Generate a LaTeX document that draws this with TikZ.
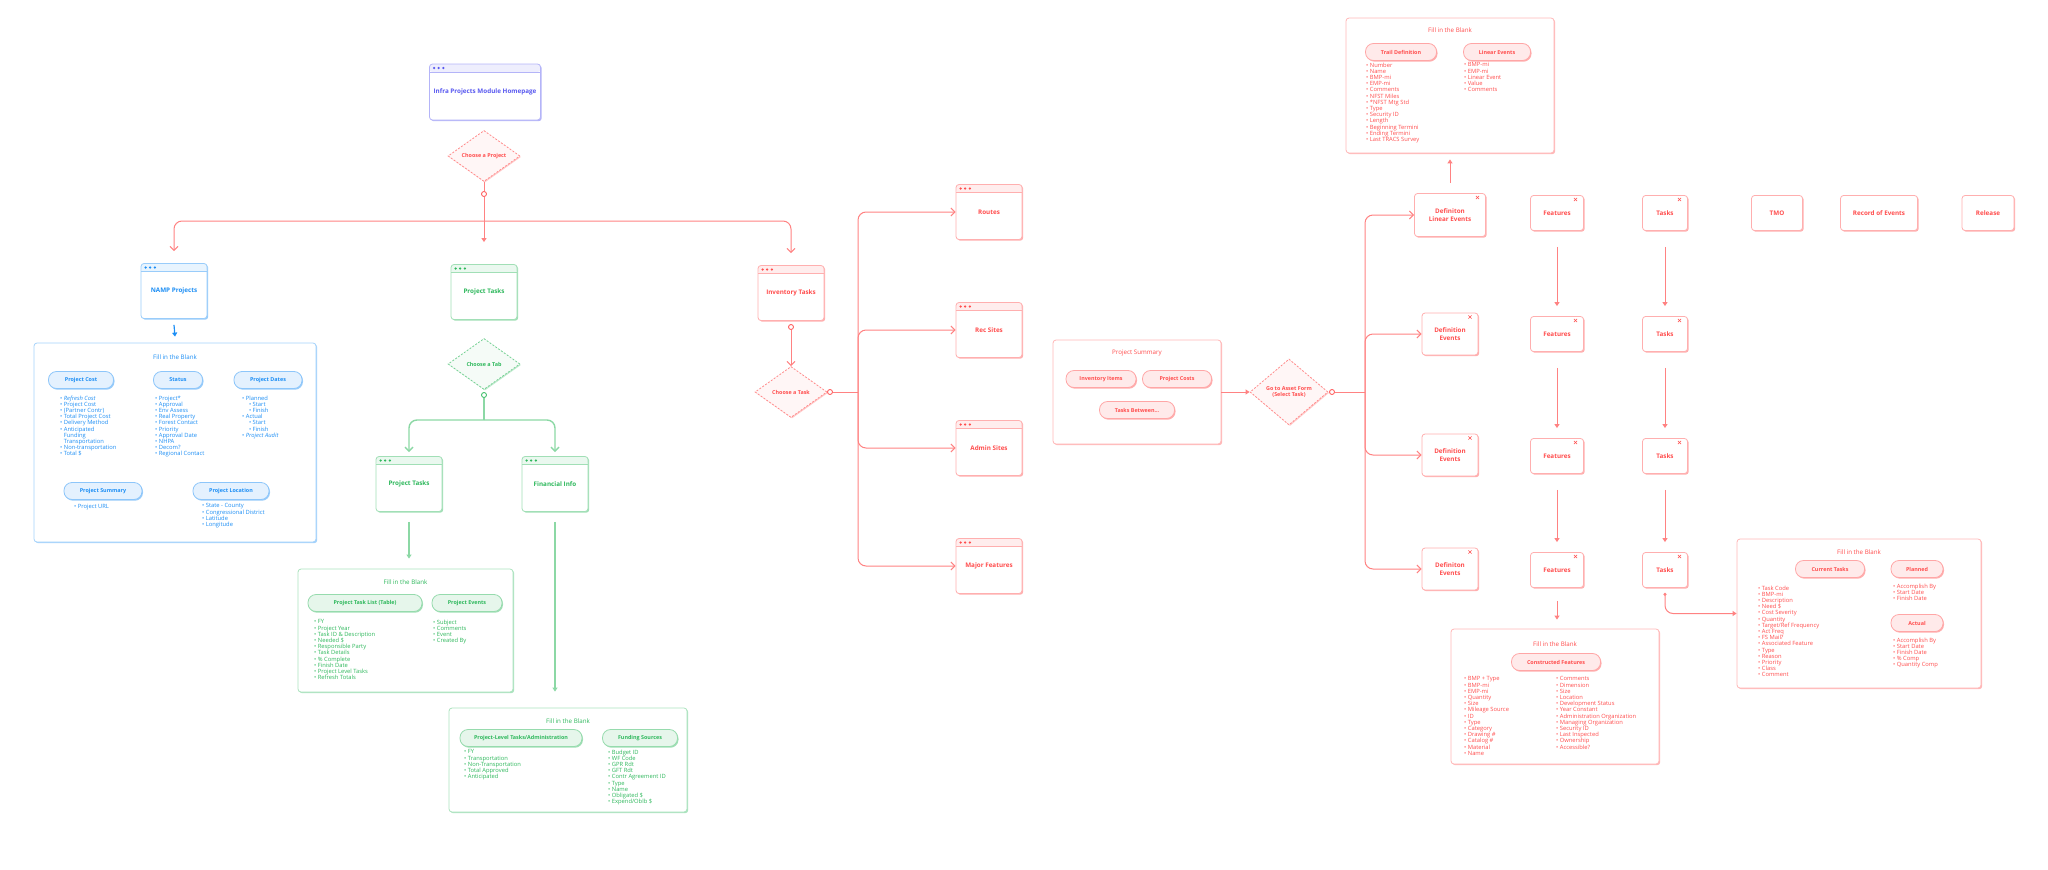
\documentclass[tikz,border=0pt]{standalone}
\usepackage{fontspec}
\setmainfont{Open Sans}
\usepackage{tikz}
\usetikzlibrary{shapes.geometric, arrows.meta, positioning, shadows, calc}
\definecolor{nred}{HTML}{FF4D4D}
\definecolor{nblue}{HTML}{1C8EF5}
\definecolor{ngreen}{HTML}{2EB85C}
\definecolor{npurple}{HTML}{5858F0}
\newcommand{\winfont}{\fontsize{6.3}{7.4}\selectfont\bfseries}
\newcommand{\pillfnt}{\fontsize{5.4}{6.3}\selectfont\bfseries}
\newcommand{\itemfnt}{\fontsize{5.8}{6.2}\selectfont}
\newcommand{\headfnt}{\fontsize{6.2}{7}\selectfont}
\tikzstyle{rline} = [nred!70, line width=1pt, rounded corners=8pt]
\tikzstyle{gline} = [ngreen!55, line width=1.4pt, rounded corners=8pt]
\tikzstyle{barb} = [-{Straight Barb[length=4pt, width=8pt]}]
\tikzstyle{tip} = [-{Triangle[length=4pt, width=5pt]}]

\begin{document}
\begin{tikzpicture}[x=1pt, y=-1pt,
		win/.style={rectangle, rounded corners=3pt, draw=#1!45, line width=0.8pt, fill=white, text=#1, font=\winfont, align=center,
			minimum width=66pt, minimum height=55pt, inner sep=1pt,
			drop shadow={shadow xshift=1.2pt, shadow yshift=-1.2pt, fill=#1!45, opacity=1},
			path picture={
				\fill[#1!10] (path picture bounding box.north west) rectangle ([yshift=-8pt]path picture bounding box.north east);
				\draw[#1!45, line width=0.6pt] ([yshift=-8pt]path picture bounding box.north west) -- ([yshift=-8pt]path picture bounding box.north east);
				\foreach \k in {1,2,3} \fill[#1] ([xshift=\k*4.6pt, yshift=-4pt]path picture bounding box.north west) circle (1.25pt);
			}},
		tbox/.style={rectangle, rounded corners=3pt, draw=nred!45, line width=0.8pt, fill=white, text=nred, font=\winfont, align=center,
			minimum height=35pt, inner sep=1pt, drop shadow={shadow xshift=1.2pt, shadow yshift=-1.2pt, fill=nred!45, opacity=1}},
		xmark/.style={path picture={
				\draw[nred, line width=0.5pt] ([xshift=-8pt, yshift=-4pt]path picture bounding box.north east) +(-1.6pt,-1.6pt) -- +(1.6pt,1.6pt) +(-1.6pt,1.6pt) -- +(1.6pt,-1.6pt);
			}},
		choice/.style={diamond, draw=#1!65, dash pattern=on 2pt off 1.5pt, line width=0.8pt, fill=#1!5, text=#1, font=\pillfnt, align=center,
			inner sep=0pt, minimum width=72pt, minimum height=51pt, drop shadow={shadow xshift=1pt, shadow yshift=-1pt, fill=#1!30, opacity=1}},
		blank/.style={rectangle, rounded corners=3pt, draw=#1!40, line width=0.8pt, fill=white,
			drop shadow={shadow xshift=1.2pt, shadow yshift=-1.2pt, fill=#1!40, opacity=1}},
		pill/.style={rectangle, rounded corners=8pt, draw=#1!50, line width=0.8pt, fill=#1!12, text=#1, font=\pillfnt,
			minimum height=17pt, inner xsep=3pt, drop shadow={shadow xshift=1pt, shadow yshift=-1.2pt, fill=#1!45, opacity=1}},
		head/.style={text=#1, font=\headfnt, inner sep=0pt},
		items/.style={text=#1, font=\itemfnt, align=left, anchor=north west, inner sep=0pt},
		dot/.style={circle, draw=#1, line width=0.8pt, fill=white, inner sep=0pt, minimum size=5pt}
		]
		\useasboundingbox (0,0) rectangle (2048,870);
		% Homepage
		\node[win=npurple, minimum width=111pt, minimum height=56pt] (home) at (485,92) {Infra Projects Module Homepage};
		\node[choice=nred] (chproj) at (484,156) {Choose a Project};
		\node[dot=nred] (pdot) at (484,194) {};
		\coordinate (pbus) at (484,221);
		% NAMP Projects
		\node[win=nblue] (namp) at (174,291) {NAMP Projects};
		\node[blank=nblue, minimum width=282pt, minimum height=199pt] (bfill) at (175,442.5) {};
		\node[head=nblue] (bhead) at (175,357) {Fill in the Blank};
		\node[pill=nblue, minimum width=65pt] (pcost) at (81,380) {Project Cost};
		\node[pill=nblue, minimum width=49pt] (pstatus) at (178,380) {Status};
		\node[pill=nblue, minimum width=68pt] (pdates) at (268,380) {Project Dates};
		\node[pill=nblue, minimum width=78pt] (psumm) at (103,491) {Project Summary};
		\node[pill=nblue, minimum width=76pt] (ploc) at (231,491) {Project Location};
		\node[items=nblue] (costlist) at (60,395.5) {\textbullet\ \textit{Refresh Cost}\\ \textbullet\ Project Cost\\ \textbullet\ (Partner Contr)\\ \textbullet\ Total Project Cost\\ \textbullet\ Delivery Method\\ \textbullet\ Anticipated\\ \phantom{\textbullet\ }Funding\\ \phantom{\textbullet\ }Transportation\\ \textbullet\ Non-transportation\\ \textbullet\ Total \$};
		\node[items=nblue] (statlist) at (155,395.5) {\textbullet\ Project*\\ \textbullet\ Approval\\ \textbullet\ Env Assess\\ \textbullet\ Real Property\\ \textbullet\ Forest Contact\\ \textbullet\ Priority\\ \textbullet\ Approval Date\\ \textbullet\ NHPA\\ \textbullet\ Decom?\\ \textbullet\ Regional Contact};
		\node[items=nblue] (datelist) at (242,395.5) {\textbullet\ Planned\\ \hspace{2.2ex}\textbullet\ Start\\ \hspace{2.2ex}\textbullet\ Finish\\ \textbullet\ Actual\\ \hspace{2.2ex}\textbullet\ Start\\ \hspace{2.2ex}\textbullet\ Finish\\ \textbullet\ \textit{Project Audit}};
		\node[items=nblue] (sumlist) at (74,504) {\textbullet\ Project URL};
		\node[items=nblue] (loclist) at (202,503.5) {\textbullet\ State - County\\ \textbullet\ Congressional District\\ \textbullet\ Latitude\\ \textbullet\ Longitude};
		% Project Tasks
		\node[win=ngreen] (ptasks) at (484,292) {Project Tasks};
		\node[choice=ngreen] (chtab) at (484,364) {Choose a Tab};
		\node[dot=ngreen] (tabdot) at (484,395) {};
		\coordinate (gbus) at (484,420);
		\node[win=ngreen] (ptasks2) at (409,484) {Project Tasks};
		\node[win=ngreen] (fin) at (555,484) {Financial Info};
		\node[blank=ngreen, minimum width=215pt, minimum height=123pt] (gfill1) at (405.5,630.5) {};
		\node[head=ngreen] (ghead1) at (405.5,582) {Fill in the Blank};
		\node[pill=ngreen, minimum width=114pt] (tasklistp) at (365,603) {Project Task List (Table)};
		\node[pill=ngreen, minimum width=70pt] (pevents) at (467,603) {Project Events};
		\node[items=ngreen] (tasklist) at (314,619.5) {\textbullet\ FY\\ \textbullet\ Project Year\\ \textbullet\ Task ID \& Description\\ \textbullet\ Needed \$\\ \textbullet\ Responsible Party\\ \textbullet\ Task Details\\ \textbullet\ \% Complete\\ \textbullet\ Finish Date\\ \textbullet\ Project Level Tasks\\ \textbullet\ Refresh Totals};
		\node[items=ngreen] (evlist) at (433,619.5) {\textbullet\ Subject\\ \textbullet\ Comments\\ \textbullet\ Event\\ \textbullet\ Created By};
		\node[blank=ngreen, minimum width=238pt, minimum height=104pt] (gfill2) at (568,760) {};
		\node[head=ngreen] (ghead2) at (568,721) {Fill in the Blank};
		\node[pill=ngreen, minimum width=122pt] (pltasks) at (521,738) {Project-Level Tasks/Administration};
		\node[pill=ngreen, minimum width=75pt] (fsrc) at (640,738) {Funding Sources};
		\node[items=ngreen] (ltlist) at (464,749.5) {\textbullet\ FY\\ \textbullet\ Transportation\\ \textbullet\ Non-Transportation\\ \textbullet\ Total Approved\\ \textbullet\ Anticipated};
		\node[items=ngreen] (fslist) at (608,749.5) {\textbullet\ Budget ID\\ \textbullet\ WF Code\\ \textbullet\ GPR Rdt\\ \textbullet\ GFT Rdt\\ \textbullet\ Contr Agreement ID\\ \textbullet\ Type\\ \textbullet\ Name\\ \textbullet\ Obligated \$\\ \textbullet\ Expend/Oblb \$};
		\coordinate (g1top) at ([yshift=10pt]gfill1.north);
		\coordinate (g2top) at ([yshift=16pt]gfill2.north);
		% Inventory Tasks
		\node[win=nred] (inv) at (791,293) {Inventory Tasks};
		\node[dot=nred] (idot) at (791,327) {};
		\node[choice=nred] (chtask) at (791,392) {Choose a Task};
		\node[dot=nred] (cdot) at (830,392) {};
		\coordinate (tbus) at (858,392);
		\node[win=nred] (routes) at (989,212) {Routes};
		\node[win=nred] (recsites) at (989,330) {Rec Sites};
		\node[win=nred] (adminsites) at (989,448) {Admin Sites};
		\node[win=nred] (majorfeat) at (989,566) {Major Features};
		% Project Summary
		\node[blank=nred, minimum width=168pt, minimum height=104pt] (psbox) at (1137,392) {};
		\node[head=nred] (pshead) at (1137,353) {Project Summary};
		\node[pill=nred, minimum width=70pt] (invitems) at (1101,379) {Inventory Items};
		\node[pill=nred, minimum width=69pt] (pcosts) at (1177,379) {Project Costs};
		\node[pill=nred, minimum width=75pt] (tasksbtw) at (1137,410) {Tasks Between...};
		\node[choice=nred, minimum width=78pt, minimum height=66pt] (goasset) at (1289,392) {Go to Asset Form\\(Select Task)};
		\node[dot=nred] (adot) at (1332,392) {};
		\coordinate (abus) at (1365,392);
		% Asset form
		\node[tbox, xmark, minimum width=71pt, minimum height=43pt] (defle) at (1450,215) {Definiton\\Linear Events};
		\node[tbox, xmark, minimum width=56pt, minimum height=42pt] (defev1) at (1450,334) {Definition\\Events};
		\node[tbox, xmark, minimum width=56pt, minimum height=42pt] (defev2) at (1450,455) {Definition\\Events};
		\node[tbox, xmark, minimum width=56pt, minimum height=42pt] (defev3) at (1450,569) {Definiton\\Events};
		\node[blank=nred, minimum width=208pt, minimum height=135pt] (tfill) at (1450,85.5) {};
		\node[head=nred] (thead) at (1450,30) {Fill in the Blank};
		\node[pill=nred, minimum width=71pt] (traildef) at (1401,52) {Trail Definition};
		\node[pill=nred, minimum width=67pt] (linev) at (1497,52) {Linear Events};
		\node[items=nred] (traillist) at (1366,62.5) {\textbullet\ Number\\ \textbullet\ Name\\ \textbullet\ BMP-mi\\ \textbullet\ EMP-mi\\ \textbullet\ Comments\\ \textbullet\ NFST Miles\\ \textbullet\ *NFST Mtg Std\\ \textbullet\ Type\\ \textbullet\ Security ID\\ \textbullet\ Length\\ \textbullet\ Beginning Termini\\ \textbullet\ Ending Termini\\ \textbullet\ Last TRACS Survey};
		\node[items=nred] (linlist) at (1464,62.5) {\textbullet\ BMP-mi\\ \textbullet\ EMP-mi\\ \textbullet\ Linear Event\\ \textbullet\ Value\\ \textbullet\ Comments};
		\foreach \r/\y in {1/213, 2/334, 3/456, 4/570} {
			\node[tbox, xmark, minimum width=53pt] (feat\r) at (1557,\y) {Features};
			\node[tbox, xmark, minimum width=45pt] (task\r) at (1665,\y) {Tasks};
		}
		\node[tbox, minimum width=51pt] (tmo) at (1777,213) {TMO};
		\node[tbox, minimum width=77pt] (recev) at (1879,213) {Record of Events};
		\node[tbox, minimum width=52pt] (release) at (1988,213) {Release};
		% Constructed Features
		\node[blank=nred, minimum width=208pt, minimum height=135pt] (cfill) at (1555,696.5) {};
		\node[head=nred] (chead) at (1555,644) {Fill in the Blank};
		\node[pill=nred, minimum width=89pt] (cfeat) at (1556,662) {Constructed Features};
		\node[items=nred] (cleft) at (1464,676.5) {\textbullet\ BMP + Type\\ \textbullet\ BMP-mi\\ \textbullet\ EMP-mi\\ \textbullet\ Quantity\\ \textbullet\ Size\\ \textbullet\ Mileage Source\\ \textbullet\ ID\\ \textbullet\ Type\\ \textbullet\ Category\\ \textbullet\ Drawing \#\\ \textbullet\ Catalog \#\\ \textbullet\ Material\\ \textbullet\ Name};
		\node[items=nred] (cright) at (1556,676.5) {\textbullet\ Comments\\ \textbullet\ Dimension\\ \textbullet\ Size\\ \textbullet\ Location\\ \textbullet\ Development Status\\ \textbullet\ Year Constant\\ \textbullet\ Administration Organization\\ \textbullet\ Managing Organization\\ \textbullet\ Security ID\\ \textbullet\ Last Inspected\\ \textbullet\ Ownership\\ \textbullet\ Accessible?};
		\coordinate (ctop) at ([yshift=9pt]cfill.north);
		% Current Tasks
		\node[blank=nred, minimum width=244pt, minimum height=149pt] (curfill) at (1859,613.5) {};
		\node[head=nred] (curhead) at (1859,552) {Fill in the Blank};
		\node[pill=nred, minimum width=69pt] (curtasks) at (1830,569) {Current Tasks};
		\node[pill=nred, minimum width=52pt] (planned) at (1917,569) {Planned};
		\node[pill=nred, minimum width=52pt] (actual) at (1917,623) {Actual};
		\node[items=nred] (curlist) at (1758,585.5) {\textbullet\ Task Code\\ \textbullet\ BMP-mi\\ \textbullet\ Description\\ \textbullet\ Need \$\\ \textbullet\ Cost Severity\\ \textbullet\ Quantity\\ \textbullet\ Target/Ref Frequency\\ \textbullet\ Act Freq\\ \textbullet\ FS Mail?\\ \textbullet\ Associated Feature\\ \textbullet\ Type\\ \textbullet\ Reason\\ \textbullet\ Priority\\ \textbullet\ Class\\ \textbullet\ Comment};
		\node[items=nred] (planlist) at (1893,583.5) {\textbullet\ Accomplish By\\ \textbullet\ Start Date\\ \textbullet\ Finish Date};
		\node[items=nred] (actlist) at (1893,637.5) {\textbullet\ Accomplish By\\ \textbullet\ Start Date\\ \textbullet\ Finish Date\\ \textbullet\ \% Comp\\ \textbullet\ Quantity Comp};
		% Connectors
		\draw[rline] (chproj.south) -- (pdot);
		\draw[rline, tip] (pdot) -- ([yshift=22pt]ptasks.north);
		\foreach \n in {namp, inv} \draw[rline, barb] (pbus) -| ([yshift=12pt]\n.north);
		\draw[nblue, line width=1.2pt, tip] ([yshift=-6pt]namp.south) -- ([yshift=6pt]bfill.north);
		\draw[gline] (tabdot) -- (gbus);
		\foreach \n in {ptasks2, fin} \draw[gline, barb] (gbus) -| ([yshift=4pt]\n.north);
		\draw[gline, tip] ([yshift=-10pt]ptasks2.south) -- (ptasks2.south |- g1top);
		\draw[gline, tip] ([yshift=-10pt]fin.south) -- (fin.south |- g2top);
		\draw[rline, barb] (idot) -- (chtask.north);
		\draw[rline] (cdot) -- (tbus);
		\foreach \n in {routes, recsites, adminsites, majorfeat} \draw[rline, barb] (tbus) |- (\n.west);
		\draw[rline, tip] (psbox.east) -- (goasset.west);
		\draw[rline] (adot) -- (abus);
		\foreach \n in {defle, defev1, defev2, defev3} \draw[rline, barb] (abus) |- (\n.west);
		\draw[rline, tip] ([yshift=10pt]defle.north) -- ([yshift=-6pt]tfill.south);
		\foreach \r/\s in {1/2, 2/3, 3/4} {
			\draw[rline, tip] ([yshift=-16pt]feat\r.south) -- ([yshift=10pt]feat\s.north);
			\draw[rline, tip] ([yshift=-16pt]task\r.south) -- ([yshift=10pt]task\s.north);
		}
		\draw[rline, tip] ([yshift=-13pt]feat4.south) -- (feat4.south |- ctop);
		\draw[rline, {Circle[length=3pt]}-{Triangle[length=4pt, width=5pt]}] ([yshift=-5pt]task4.south) |- (curfill.west);
\end{tikzpicture}
\end{document}
